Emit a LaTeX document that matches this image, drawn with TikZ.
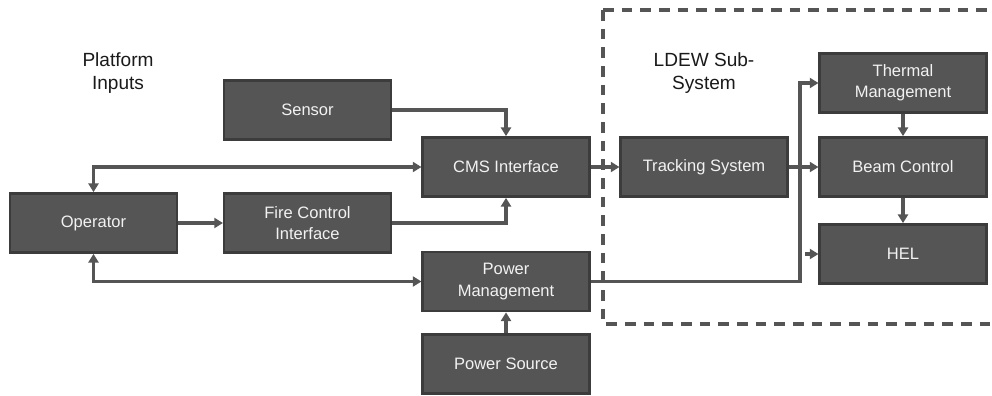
\documentclass[tikz,border=0pt]{standalone}
\usepackage{fontspec}
\setmainfont{Liberation Sans}
\usetikzlibrary{arrows.meta}
\definecolor{boxfill}{HTML}{555555}
\definecolor{boxline}{HTML}{3C3C3C}
\definecolor{linecol}{HTML}{555555}
\definecolor{boxtext}{HTML}{F2F2F2}
\definecolor{labeltext}{HTML}{1A1A1A}
\tikzset{
  blk/.style={draw=boxline, line width=1.8pt, fill=boxfill, text=boxtext,
    minimum width=125pt, minimum height=44.5pt, inner sep=0pt, align=center,
    font=\fontsize{12.4}{15.8}\selectfont},
  lbl/.style={text=labeltext, align=center, font=\fontsize{14.3}{17.5}\selectfont},
  conn/.style={draw=linecol, line width=2.3pt, -{Triangle[length=6.5pt,width=7.5pt]}},
  bconn/.style={draw=linecol, line width=2.3pt, {Triangle[length=6.5pt,width=7.5pt]}-{Triangle[length=6.5pt,width=7.5pt]}},
  sub/.style={draw=linecol, line width=2.4pt, dash pattern=on 8pt off 6pt}
}
\begin{document}
\begin{tikzpicture}[x=0.75pt,y=-0.75pt]
\useasboundingbox (0,0) rectangle (992,396);
\clip (0,0) rectangle (992,396);
% dashed sub-system frame
\draw[sub] (603,10) -- (1010,10);
\draw[sub] (603,10) -- (603,324) -- (1010,324);
% labels
\node[lbl] (plat) at (118,73) {Platform\\Inputs};
\node[lbl] (ldew) at (704,73) {LDEW Sub-\\System};
% blocks
\node[blk] (sensor) at (307.5,110) {Sensor};
\node[blk] (op) at (93.5,223) {Operator};
\node[blk] (fire) at (307.5,223) {Fire Control\\Interface};
\node[blk] (cms) at (506,167) {CMS Interface};
\node[blk] (pm) at (506,281.5) {Power\\Management};
\node[blk] (ps) at (506,364) {Power Source};
\node[blk] (track) at (704,167) {Tracking System};
\node[blk] (therm) at (903,83) {Thermal\\Management};
\node[blk] (beam) at (903,167) {Beam Control};
\node[blk] (hel) at (903,254) {HEL};
% helper coordinates
\coordinate (busx) at (800,0);
\coordinate (stubx) at (805,0);
% connectors
\draw[conn] (sensor.east) -| (cms.north);
\draw[bconn] (op.north) |- (cms.west);
\draw[conn] (op.east) -- (fire.west);
\draw[conn] (fire.east) -| (cms.south);
\draw[bconn] (op.south) |- (pm.west);
\draw[conn] (ps.north) -- (pm.south);
\draw[conn] (cms.east) -- (track.west);
\draw[conn] (track.east) -- (beam.west);
\draw[conn] (pm.east) -- (pm.east -| busx) |- (therm.west);
\draw[conn] (hel.west -| stubx) -- (hel.west);
\draw[conn] (therm.south) -- (beam.north);
\draw[conn] (beam.south) -- (hel.north);
\end{tikzpicture}
\end{document}
